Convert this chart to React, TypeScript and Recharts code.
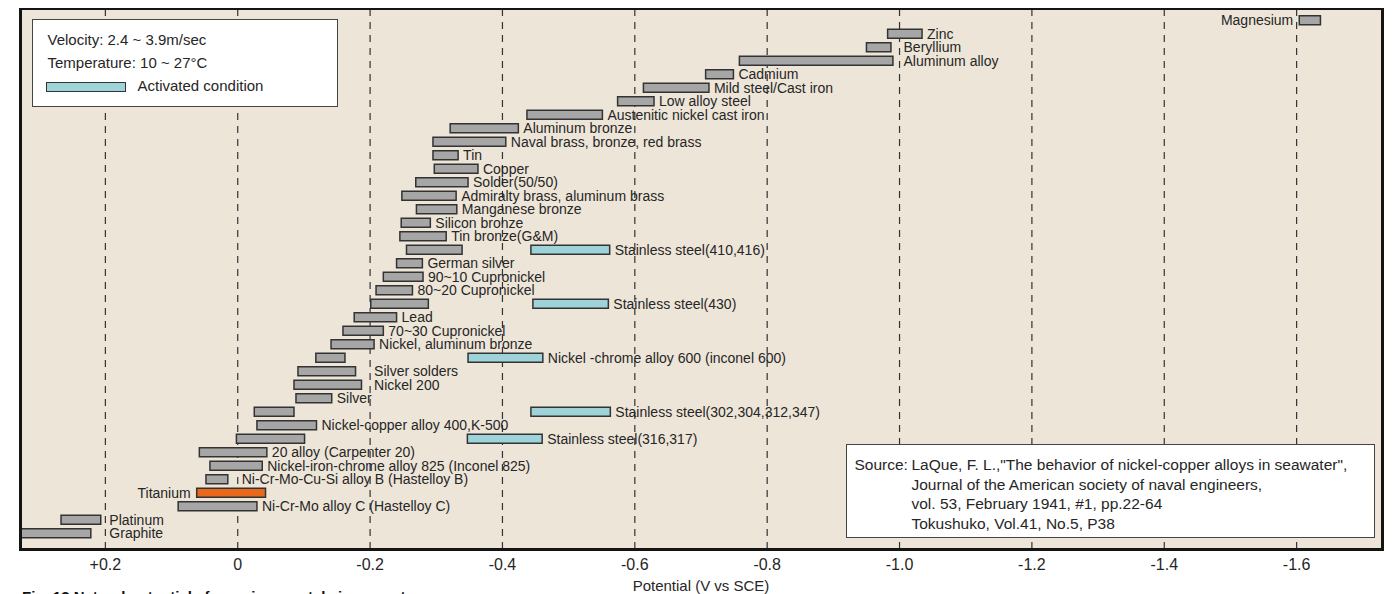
import React from 'react';
import { BarChart, Bar, XAxis, YAxis, CartesianGrid, Cell, Legend } from 'recharts';

// Galvanic series in flowing seawater: potential ranges (V vs SCE), listed from
// the most active metal at the top to the most noble at the bottom.
const metals = [
  'Magnesium',
  'Zinc',
  'Beryllium',
  'Aluminum alloy',
  'Cadmium',
  'Mild steel/Cast iron',
  'Low alloy steel',
  'Austenitic nickel cast iron',
  'Aluminum bronze',
  'Naval brass, bronze, red brass',
  'Tin',
  'Copper',
  'Solder(50/50)',
  'Admiralty brass, aluminum brass',
  'Manganese bronze',
  'Silicon bronze',
  'Tin bronze(G&M)',
  'Stainless steel(410,416)',
  'German silver',
  '90~10 Cupronickel',
  '80~20 Cupronickel',
  'Stainless steel(430)',
  'Lead',
  '70~30 Cupronickel',
  'Nickel, aluminum bronze',
  'Nickel -chrome alloy 600 (inconel 600)',
  'Silver solders',
  'Nickel 200',
  'Silver',
  'Stainless steel(302,304,312,347)',
  'Nickel-copper alloy 400,K-500',
  'Stainless steel(316,317)',
  '20 alloy (Carpenter 20)',
  'Nickel-iron-chrome alloy 825 (Inconel 825)',
  'Ni-Cr-Mo-Cu-Si alloy B (Hastelloy B)',
  'Titanium',
  'Ni-Cr-Mo alloy C (Hastelloy C)',
  'Platinum',
  'Graphite',
];

// [noble end, active end] of each metal's potential range
const passiveRange: [number, number][] = [
  [-1.604, -1.636],
  [-0.982, -1.034],
  [-0.95, -0.987],
  [-0.758, -0.99],
  [-0.707, -0.749],
  [-0.613, -0.712],
  [-0.574, -0.629],
  [-0.437, -0.551],
  [-0.321, -0.424],
  [-0.295, -0.405],
  [-0.295, -0.333],
  [-0.297, -0.363],
  [-0.269, -0.348],
  [-0.248, -0.33],
  [-0.27, -0.331],
  [-0.247, -0.291],
  [-0.245, -0.315],
  [-0.255, -0.339],
  [-0.24, -0.279],
  [-0.22, -0.28],
  [-0.209, -0.264],
  [-0.201, -0.288],
  [-0.176, -0.24],
  [-0.159, -0.22],
  [-0.141, -0.206],
  [-0.118, -0.162],
  [-0.091, -0.178],
  [-0.085, -0.187],
  [-0.088, -0.142],
  [-0.025, -0.085],
  [-0.029, -0.119],
  [0.002, -0.101],
  [0.058, -0.044],
  [0.042, -0.037],
  [0.048, 0.015],
  [0.062, -0.042],
  [0.09, -0.029],
  [0.267, 0.207],
  [0.328, 0.222],
];

// Ranges in the activated condition (only for the alloys that show one)
const activatedRange: ([number, number] | null)[] = metals.map(() => null);
activatedRange[17] = [-0.443, -0.562];
activatedRange[21] = [-0.446, -0.56];
activatedRange[25] = [-0.348, -0.461];
activatedRange[29] = [-0.443, -0.563];
activatedRange[31] = [-0.347, -0.46];

const potentialTicks = [0.2, 0, -0.2, -0.4, -0.6, -0.8, -1.0, -1.2, -1.4, -1.6];
const potentialDomain: [number, number] = [-1.729, 0.329];

const conditionNotes = ['Velocity: 2.4 ~ 3.9m/sec', 'Temperature: 10 ~ 27°C'];
const sourceLines = [
  'LaQue, F. L.,"The behavior of nickel-copper alloys in seawater",',
  'Journal of the American society of naval engineers,',
  'vol. 53, February 1941, #1, pp.22-64',
  'Tokushuko, Vol.41, No.5, P38',
];
const captionText = 'Fig. 13 Natural potentials for various metals in seawater';

const highlightedMetal = 'Titanium';
const labelsOnLeft = ['Magnesium', 'Titanium'];

const rows = metals.map((name, i) => ({
  name,
  passive: passiveRange[i],
  activated: activatedRange[i],
}));

const FONT = '"Liberation Sans", Arial, Helvetica, sans-serif';
const GRAY = '#a6a6a6';
const CYAN = '#9ed3d9';
const ORANGE = '#e8691c';
const BG = '#ede5d8';
const INK = '#262626';

const formatPotential = (v: number) =>
  v === 0 ? '0' : v > 0 ? `+${v.toFixed(1)}` : v.toFixed(1);

// Bar shape: draws the range rectangle and, where appropriate, the metal name.
const renderBar = (series: 'passive' | 'activated') => (props: any) => {
  const { x, y, width, height, payload, fill } = props;
  const range = payload ? payload[series] : null;
  if (!range || !Number.isFinite(x) || !Number.isFinite(width)) return <g />;
  const left = Math.min(x, x + width);
  const right = Math.max(x, x + width);
  const w = right - left;
  const showLabel = series === 'activated' || !payload.activated;
  let label: React.ReactNode = null;
  if (showLabel) {
    const textY = y + height / 2 + 4.8;
    if (labelsOnLeft.includes(payload.name)) {
      label = (
        <text x={left - 6} y={textY} textAnchor="end" fontSize={14} fill={INK}>
          {payload.name}
        </text>
      );
    } else {
      const [start, end] = range;
      const pxPerVolt = w / Math.abs(start - end);
      // keep the name clear of a gridline that sits just past the bar end
      const grid = potentialTicks.find((t) => t < end && end - t <= 0.025);
      const lx = grid !== undefined ? right + (end - grid) * pxPerVolt + 4 : right + 5;
      label = (
        <text x={lx} y={textY} textAnchor="start" fontSize={14} fill={INK}>
          {payload.name}
        </text>
      );
    }
  }
  return (
    <g>
      <rect x={left} y={y} width={w} height={height} fill={fill} stroke="#333" strokeWidth={1.5} />
      {label}
    </g>
  );
};

const LegendBox = (props: any) => {
  const payload: any[] = props.payload || [];
  const item = payload.find((p) => p.dataKey === 'activated');
  const swatch = (item && item.color) || CYAN;
  const text = (item && item.value) || 'Activated condition';
  const line: React.CSSProperties = {
    position: 'absolute',
    lineHeight: '15px',
    whiteSpace: 'nowrap',
  };
  return (
    <div
      style={{
        position: 'relative',
        width: 306,
        height: 88,
        boxSizing: 'border-box',
        background: '#fff',
        border: '1.5px solid #444',
        fontSize: 15,
        color: INK,
        fontFamily: FONT,
      }}
    >
      {conditionNotes.map((t, i) => (
        <div key={t} style={{ ...line, left: 14.5, top: 11.8 + i * 23.3 }}>
          {t}
        </div>
      ))}
      <div
        style={{
          position: 'absolute',
          left: 13.2,
          top: 62.2,
          width: 80,
          height: 10,
          boxSizing: 'border-box',
          background: swatch,
          border: '1.5px solid #333',
        }}
      />
      <div style={{ ...line, left: 104.5, top: 57.5 }}>{text}</div>
    </div>
  );
};

export default function App() {
  return (
    <div
      style={{
        position: 'absolute',
        left: 0,
        top: 0,
        width: 1400,
        height: 594,
        overflow: 'hidden',
        background: '#fff',
        fontFamily: FONT,
      }}
    >
      <BarChart
        width={1400}
        height={594}
        layout="vertical"
        data={rows}
        margin={{ top: 9, right: 18, bottom: 0, left: 20 }}
        barSize={9}
        barGap={-9}
      >
        <CartesianGrid
          horizontal={false}
          stroke="#333"
          strokeWidth={1.2}
          strokeDasharray="7 6"
          fill={BG}
          fillOpacity={1}
        />
        <XAxis
          type="number"
          domain={potentialDomain}
          reversed
          allowDataOverflow
          ticks={potentialTicks}
          interval={0}
          tickFormatter={formatPotential}
          height={45}
          tickLine={false}
          axisLine={false}
          tickSize={6}
          tickMargin={4}
          tick={{ fontSize: 16, fill: INK }}
          label={{
            value: 'Potential (V vs SCE)',
            position: 'insideBottom',
            offset: 3,
            fontSize: 15,
            fill: INK,
          }}
        />
        <YAxis type="category" dataKey="name" hide padding={{ top: 4.75, bottom: 8.75 }} />
        <Legend
          layout="horizontal"
          verticalAlign="middle"
          align="center"
          wrapperStyle={{ left: 32, top: 19, width: 306, height: 88 }}
          content={(p: any) => <LegendBox {...p} />}
        />
        <Bar
          dataKey="passive"
          name="Potential range"
          fill={GRAY}
          legendType="none"
          shape={renderBar('passive')}
          isAnimationActive={false}
        >
          {rows.map((r) => (
            <Cell key={r.name} fill={r.name === highlightedMetal ? ORANGE : GRAY} />
          ))}
        </Bar>
        <Bar
          dataKey="activated"
          name="Activated condition"
          fill={CYAN}
          shape={renderBar('activated')}
          isAnimationActive={false}
        />
      </BarChart>

      {/* heavy frame around the plot */}
      <div
        style={{
          position: 'absolute',
          left: 19,
          top: 8,
          width: 1365,
          height: 543,
          boxSizing: 'border-box',
          border: '3px solid #141414',
          borderTopWidth: 2.5,
          pointerEvents: 'none',
        }}
      />

      {/* source note */}
      <div
        style={{
          position: 'absolute',
          left: 846,
          top: 444,
          width: 529,
          height: 94,
          boxSizing: 'border-box',
          background: '#fff',
          border: '1.5px solid #444',
          fontSize: 15.5,
          color: INK,
        }}
      >
        <div style={{ position: 'absolute', left: 7.5, top: 10, lineHeight: '19.5px' }}>Source:</div>
        <div style={{ position: 'absolute', left: 64.5, top: 10, lineHeight: '19.5px', whiteSpace: 'nowrap' }}>
          {sourceLines.map((l) => (
            <div key={l}>{l}</div>
          ))}
        </div>
      </div>

      <div
        style={{
          position: 'absolute',
          left: 22,
          top: 589,
          fontSize: 15,
          lineHeight: '15px',
          fontWeight: 'bold',
          color: '#111',
          whiteSpace: 'nowrap',
        }}
      >
        {captionText}
      </div>
    </div>
  );
}
